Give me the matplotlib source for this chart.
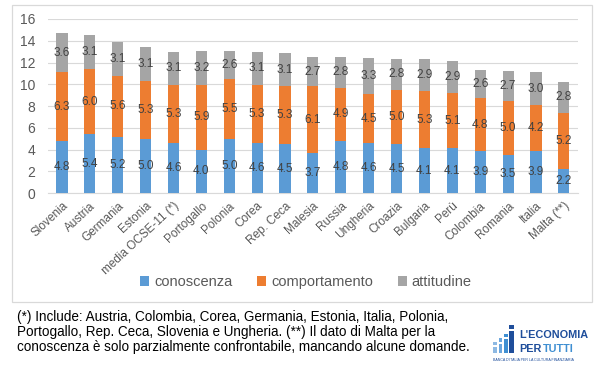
import matplotlib
matplotlib.use("Agg")
import matplotlib.pyplot as plt
from matplotlib.patches import Rectangle
import numpy as np

plt.rcParams['font.family'] = ['Liberation Sans', 'DejaVu Sans']

countries = ["Slovenia", "Austria", "Germania", "Estonia", "media OCSE-11 (*)",
             "Portogallo", "Polonia", "Corea", "Rep. Ceca", "Malesia", "Russia",
             "Ungheria", "Croazia", "Bulgaria", "Perù", "Colombia", "Romania",
             "Italia", "Malta (**)"]
conoscenza = [4.8, 5.4, 5.2, 5.0, 4.6, 4.0, 5.0, 4.6, 4.5, 3.7, 4.8, 4.6, 4.5, 4.1, 4.1, 3.9, 3.5, 3.9, 2.2]
comportamento = [6.3, 6.0, 5.6, 5.3, 5.3, 5.9, 5.5, 5.3, 5.3, 6.1, 4.9, 4.5, 5.0, 5.3, 5.1, 4.8, 5.0, 4.2, 5.2]
attitudine = [3.6, 3.1, 3.1, 3.1, 3.1, 3.2, 2.6, 3.1, 3.1, 2.7, 2.8, 3.3, 2.8, 2.9, 2.9, 2.6, 2.7, 3.0, 2.8]
series_names = ["conoscenza", "comportamento", "attitudine"]
colors = ["#5B9BD5", "#ED7D31", "#A5A5A5"]
yticks = [0, 2, 4, 6, 8, 10, 12, 14, 16]

footnote = ("(*) Include: Austria, Colombia, Corea, Germania, Estonia, Italia, Polonia,\n"
            "Portogallo, Rep. Ceca, Slovenia e Ungheria. (**) Il dato di Malta per la\n"
            "conoscenza è solo parzialmente confrontabile, mancando alcune domande.")

fig = plt.figure(figsize=(6.0, 3.65), dpi=100)
fig.patch.set_facecolor("white")

# chart area border
fig.patches.append(Rectangle((0.02, 0.173), 0.967, 0.813, transform=fig.transFigure,
                             fill=False, edgecolor="#D9D9D9", linewidth=0.9))

ax = fig.add_axes([0.08, 0.471, 0.883, 0.477])
x = np.arange(len(countries))
bottom = np.zeros(len(countries))
for vals, name, col in zip([conoscenza, comportamento, attitudine], series_names, colors):
    v = np.array(vals)
    bars = ax.bar(x, v, width=0.4, bottom=bottom, color=col, label=name, zorder=3)
    ax.bar_label(bars, labels=[f"{a:.1f}" for a in v], label_type="center",
                 fontsize=8.5, color="#404040", zorder=4)
    bottom += v

ax.set_xlim(-0.5, len(countries) - 0.5)
ax.set_ylim(0, 16)
ax.set_yticks(yticks)
ax.tick_params(axis="y", length=0, labelsize=10, labelcolor="#595959", pad=9)
ax.set_xticks(x)
ax.set_xticklabels(countries, rotation=43, ha="right", rotation_mode="anchor",
                   fontsize=8.5, color="#595959")
ax.tick_params(axis="x", length=0, pad=5)
ax.grid(axis="y", color="#D9D9D9", linewidth=0.8, zorder=0)
for s in ["top", "right", "left"]:
    ax.spines[s].set_visible(False)
ax.spines["bottom"].set_color("#D9D9D9")

leg = fig.legend(loc="center", bbox_to_anchor=(0.51, 0.227), ncol=3, frameon=False,
                 fontsize=10.5, handlelength=0.6, handleheight=0.6, columnspacing=1.7,
                 handletextpad=0.35)
for t in leg.get_texts():
    t.set_color("#595959")

fig.text(0.028, 0.03, footnote, fontsize=9.75, color="black", ha="left", va="bottom",
         linespacing=1.08)

# logo
logo_blue = "#1F4E9B"
logo_light = "#3F8FD2"
fig.text(0.866, 0.068, "L'ECONOMIA", fontsize=7.8, color=logo_blue, fontweight="bold",
         ha="left", va="bottom")
fig.text(0.866, 0.03, "PER", fontsize=7.8, color=logo_blue, fontweight="bold",
         ha="left", va="bottom")
fig.text(0.905, 0.03, "TUTTI", fontsize=7.8, color=logo_light, fontweight="bold",
         ha="left", va="bottom")
fig.text(0.822, 0.008, "BANCA D'ITALIA PER LA CULTURA FINANZIARIA", fontsize=2.6,
         color=logo_blue, ha="left", va="bottom")
logo_bars = [(0.822, 0.032, 0.006, 0.016, "#8DB9E3"),
             (0.831, 0.032, 0.006, 0.026, "#6AA6DE"),
             (0.840, 0.032, 0.006, 0.038, "#3F8FD2"),
             (0.849, 0.032, 0.007, 0.062, logo_blue)]
for bx, by, bw, bh, bc in logo_bars:
    fig.patches.append(Rectangle((bx, by), bw, bh, transform=fig.transFigure,
                                 facecolor=bc, edgecolor="none"))
    fig.patches.append(Rectangle((bx, by + bh + 0.006), bw, 0.01, transform=fig.transFigure,
                                 facecolor=bc, edgecolor="none"))

fig.savefig("out.png", dpi=100, facecolor="white")
